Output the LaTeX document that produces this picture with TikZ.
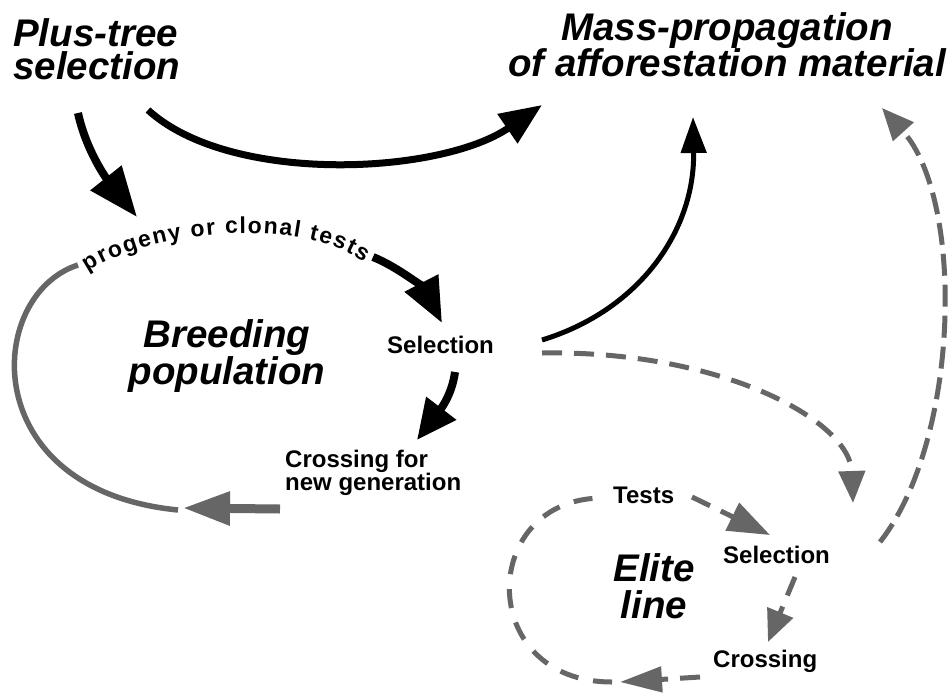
\documentclass[tikz,border=0pt]{standalone}
\usepackage{fontspec}
\setmainfont{Liberation Sans}
\usetikzlibrary{arrows.meta,decorations.text}
\definecolor{dither}{gray}{0.4}
\begin{document}
\begin{tikzpicture}[x=1pt,y=-1pt,
  title/.style={font=\fontsize{38.5}{#1}\selectfont\bfseries\itshape, inner sep=0pt},
  lbl/.style={font=\fontsize{24}{23}\selectfont\bfseries, inner sep=0pt, align=left},
  solidarrow/.style={draw=black, line width=#1},
  grayline/.style={draw=dither, line width=#1},
  grayarrow/.style={draw=dither, line width=5pt, dash pattern=on 20pt off 12pt},
]
\useasboundingbox[fill=white] (0,0) rectangle (950,693);

% ---- text nodes (base anchor = baseline of the last line)
\node[title=33, align=left, anchor=base west] (plus) at (13,80) {Plus-tree\\selection};
\node[title=32, align=center, anchor=base] (mass) at (727,77) {Mass-propagation\\of afforestation material};
\node[title=29, align=center, anchor=base] (breed) at (227,384) {Breeding\\population};
\node[lbl, anchor=base west] (sel1) at (387,353) {Selection};
\node[lbl, anchor=base west] (cross1) at (285,490) {Crossing for\\new generation};
\node[lbl, anchor=base west] (tests) at (613,503) {Tests};
\node[lbl, anchor=base west] (sel2) at (723,563) {Selection};
\node[lbl, anchor=base west] (cross2) at (713,667) {Crossing};
\node[title=37, align=center, anchor=base] (elite) at (654,618) {Elite\\line};

% ---- connector end points
\coordinate (a1s) at (78,113);   \coordinate (a1e) at (137,217);
\coordinate (a2s) at (148,110);  \coordinate (a2e) at (542,105);
\coordinate (t1) at (88,272);    \coordinate (t2) at (364,262);
\coordinate (a4s) at (373,257);  \coordinate (a4e) at (442,323);
\coordinate (a5s) at (455,372);  \coordinate (a5e) at (417,440);
\coordinate (a6s) at (280,509);  \coordinate (a6e) at (183,508);
\coordinate (l1s) at (78,265);   \coordinate (l1e) at (178,510);
\coordinate (a7s) at (542,340);  \coordinate (a7e) at (693,117);
\coordinate (a8s) at (542,353);  \coordinate (a8e) at (853,503);
\coordinate (a9s) at (880,542);  \coordinate (a9e) at (882,108);
\coordinate (a10s) at (692,497); \coordinate (a10e) at (770,535);
\coordinate (a11s) at (795,577); \coordinate (a11e) at (768,642);
\coordinate (a12s) at (700,677); \coordinate (a12e) at (620,682);
\coordinate (l2s) at (612,682);  \coordinate (l2e) at (604,498);

% ---- black arrows
\draw[solidarrow=8pt, -{Triangle[length=50pt,width=38pt]}] (a1s) .. controls (86,150) and (106,178) .. (a1e);
\draw[solidarrow=7pt, -{Triangle[length=42pt,width=34pt]}] (a2s) .. controls (230,185) and (440,175) .. (a2e);
\draw[solidarrow=8pt, -{Triangle[length=45pt,width=36pt]}] (a4s) .. controls (400,268) and (425,290) .. (a4e);
\draw[solidarrow=8pt, -{Triangle[length=40pt,width=36pt]}] (a5s) .. controls (452,395) and (440,410) .. (a5e);
\draw[solidarrow=5pt, -{Triangle[length=36pt,width=25pt]}] (a7s) .. controls (640,310) and (695,230) .. (a7e);

% ---- curved label of the breeding loop
\path[decorate, decoration={text along path,
   text={|\fontsize{23}{23}\selectfont\bfseries|progeny or clonal tests},
   text align=fit to path}]
   (t1) .. controls (150,230) and (300,216) .. (t2);

% ---- grey breeding loop
\draw[grayline=5.5pt] (l1s) .. controls (-15,295) and (-25,490) .. (l1e);
\draw[grayline=9pt, -{Triangle[length=47pt,width=32pt]}] (a6s) -- (a6e);

% ---- grey dashed elite connections
\draw[grayarrow, -{Triangle[length=32pt,width=26pt]}] (a8s) .. controls (720,350) and (850,420) .. (a8e);
\draw[grayarrow, dash pattern=on 22pt off 9pt, -{Triangle[length=32pt,width=27pt]}] (a9s) .. controls (960,440) and (965,200) .. (a9e);
\draw[grayarrow, -{Triangle[length=42pt,width=30pt]}] (a10s) -- (a10e);
\draw[grayarrow, -{Triangle[length=32pt,width=27pt]}] (a11s) -- (a11e);
\draw[grayarrow, -{Triangle[length=42pt,width=25pt]}] (a12s) -- (a12e);
\draw[grayarrow, dash pattern=on 19pt off 15pt] (l2s) .. controls (475,682) and (478,497) .. (l2e);
\end{tikzpicture}
\end{document}
